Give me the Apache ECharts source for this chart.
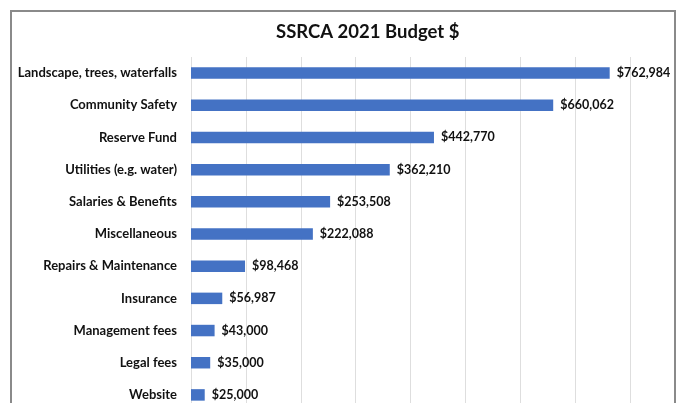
<!DOCTYPE html>
<html>
<head>
<meta charset="utf-8">
<script src="https://cdn.jsdelivr.net/npm/echarts@6/dist/echarts.min.js"></script>
<style>
  html, body { margin: 0; padding: 0; background: #fff; }
  #main { width: 677px; height: 403px; }
</style>
</head>
<body>
<div id="main"></div>
<script>
const categories = [
  'Landscape, trees, waterfalls',
  'Community Safety',
  'Reserve Fund',
  'Utilities (e.g. water)',
  'Salaries & Benefits',
  'Miscellaneous',
  'Repairs & Maintenance',
  'Insurance',
  'Management fees',
  'Legal fees',
  'Website'
]
const budget = [762984, 660062, 442770, 362210, 253508, 222088, 98468, 56987, 43000, 35000, 25000]

const font = 'Lato, "Open Sans", sans-serif'

const myChart = echarts.init(document.getElementById('main'))
myChart.setOption({
  animation: false,
  title: {
    text: 'SSRCA 2021 Budget $',
    left: 271,
    top: 18,
    textStyle: { fontFamily: font, fontSize: 18.5, fontWeight: 'bold', color: '#111' }
  },
  graphic: [
    {
      type: 'rect',
      shape: { x: 11, y: 11, width: 664, height: 420 },
      style: { fill: 'none', stroke: '#8a8a8a', lineWidth: 2 },
      silent: true
    }
  ],
  grid: { left: 191, top: 57, right: 47, height: 354, outerBoundsMode: 'none' },
  xAxis: {
    type: 'value',
    min: 0,
    max: 800000,
    interval: 100000,
    axisLabel: { show: false },
    axisLine: { show: false },
    axisTick: { show: false },
    splitLine: { lineStyle: { color: '#dedede', width: 1 } }
  },
  yAxis: {
    type: 'category',
    inverse: true,
    data: categories,
    axisLine: { show: false },
    axisTick: { show: false },
    axisLabel: {
      margin: 14,
      fontFamily: font,
      fontSize: 13,
      fontWeight: 'bold',
      color: '#111'
    }
  },
  series: [
    {
      type: 'bar',
      data: budget,
      barWidth: 11.5,
      itemStyle: { color: '#4472C4' },
      label: {
        show: true,
        position: 'right',
        distance: 7,
        fontFamily: font,
        fontSize: 12.5,
        fontWeight: 'bold',
        color: '#111',
        formatter: p => '$' + p.value.toLocaleString('en-US')
      }
    }
  ]
})
</script>
</body>
</html>
